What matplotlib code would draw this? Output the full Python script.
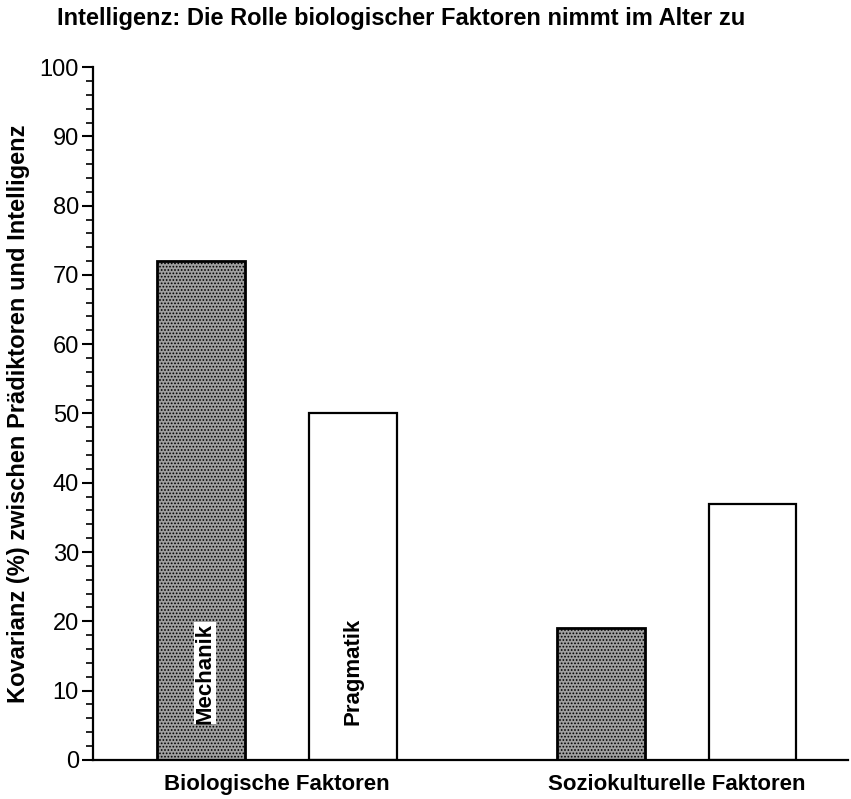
import numpy as np
import matplotlib
matplotlib.use("Agg")
import matplotlib.pyplot as plt

# data
groups = ["Biologische Faktoren", "Soziokulturelle Faktoren"]
series = ["Mechanik", "Pragmatik"]
mechanik = [72, 19]
pragmatik = [50, 37]

plt.rcParams['font.family'] = ['Liberation Sans', 'DejaVu Sans']
plt.rcParams['hatch.color'] = '#555555'
plt.rcParams['hatch.linewidth'] = 0.8

fig = plt.figure(figsize=(8.51, 7.99), dpi=100)
ax = fig.add_axes([0.109, 0.049, 0.888, 0.867])

x = np.arange(len(groups))
off = 0.19
w = 0.22
ax.bar(x - off, mechanik, width=w, facecolor='#a0a0a0', edgecolor='black',
       linewidth=2, hatch='.....', zorder=2)
ax.bar(x + off, pragmatik, width=w, facecolor='white', edgecolor='black',
       linewidth=1.6, zorder=2)

# series labels inside the first group
ax.text(x[0] - off + 0.01, 12.5, series[0], rotation=90, ha='center', va='center',
        fontsize=16, fontweight='bold', zorder=3,
        bbox=dict(facecolor='white', edgecolor='none', pad=0.5))
ax.text(x[0] + off, 12.7, series[1], rotation=90, ha='center', va='center',
        fontsize=16, fontweight='bold', zorder=3)

ax.set_xlim(-0.46, 1.43)
ax.set_ylim(0, 100)
ax.set_yticks(np.arange(0, 101, 10))
ax.set_yticks(np.arange(0, 101, 2), minor=True)
ax.tick_params(axis='y', which='major', length=8, width=1.5, labelsize=17, pad=2)
ax.tick_params(axis='y', which='minor', length=5, width=1.2)
ax.set_xticks(x)
ax.set_xticklabels(groups, fontsize=16, fontweight='bold')
ax.tick_params(axis='x', length=0, pad=10)

for s in ['top', 'right']:
    ax.spines[s].set_visible(False)
ax.spines['left'].set_linewidth(1.6)
ax.spines['bottom'].set_linewidth(1.6)

ax.set_ylabel("Kovarianz (%) zwischen Prädiktoren und Intelligenz",
              fontsize=17, fontweight='bold', labelpad=7)
fig.text(0.067, 0.977, "Intelligenz: Die Rolle biologischer Faktoren nimmt im Alter zu",
         fontsize=17, fontweight='bold', ha='left', va='center')

fig.savefig("out.png", dpi=100)
